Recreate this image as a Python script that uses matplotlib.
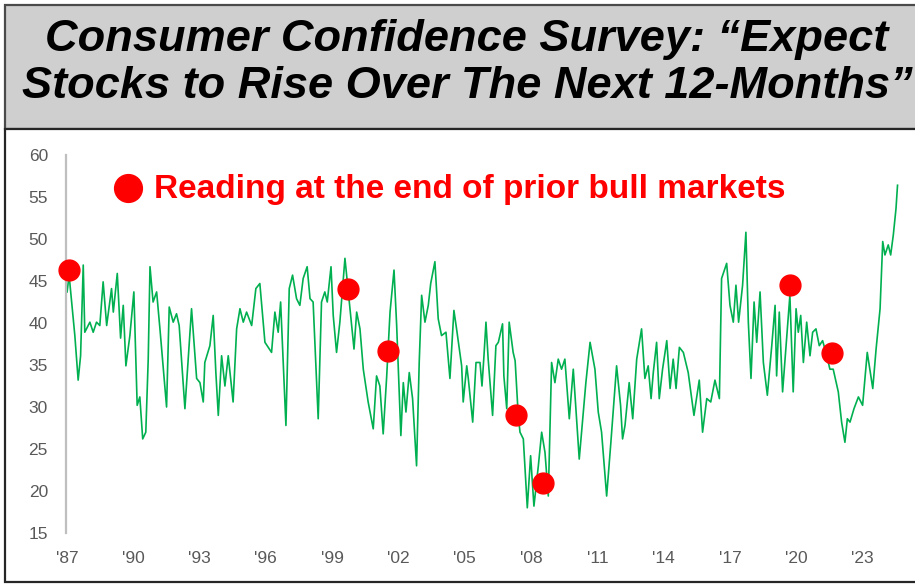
import matplotlib
matplotlib.use("Agg")
import matplotlib.pyplot as plt
from matplotlib.patches import Rectangle

# ---- data (decimal year, % expecting stocks to rise) ----
dates = [
    1987.01, 1987.10, 1987.36, 1987.51, 1987.62, 1987.74, 1987.81, 1988.04, 1988.19, 1988.34,
    1988.49, 1988.64, 1988.80, 1989.02, 1989.10, 1989.28, 1989.43, 1989.55, 1989.67, 1989.85,
    1990.03, 1990.18, 1990.30, 1990.43, 1990.57, 1990.68, 1990.76, 1990.90, 1991.06, 1991.21,
    1991.51, 1991.63, 1991.81, 1991.96, 1992.08, 1992.34, 1992.64, 1992.87, 1993.02, 1993.17,
    1993.24, 1993.47, 1993.62, 1993.74, 1993.85, 1994.00, 1994.15, 1994.30, 1994.52, 1994.68,
    1994.83, 1994.98, 1995.13, 1995.36, 1995.55, 1995.73, 1995.96, 1996.26, 1996.41, 1996.56,
    1996.67, 1996.91, 1997.06, 1997.21, 1997.39, 1997.54, 1997.69, 1997.87, 1998.00, 1998.14,
    1998.37, 1998.52, 1998.67, 1998.78, 1998.95, 1999.05, 1999.20, 1999.35, 1999.58, 1999.81,
    1999.99, 2000.11, 2000.26, 2000.41, 2000.63, 2000.86, 2001.01, 2001.16, 2001.31, 2001.47,
    2001.62, 2001.80, 2001.92, 2002.11, 2002.22, 2002.34, 2002.49, 2002.64, 2002.82, 2002.94,
    2003.05, 2003.20, 2003.35, 2003.46, 2003.65, 2003.80, 2003.95, 2004.15, 2004.33, 2004.51,
    2004.63, 2004.86, 2004.93, 2005.09, 2005.16, 2005.36, 2005.51, 2005.69, 2005.78, 2005.87,
    2005.96, 2006.06, 2006.26, 2006.41, 2006.52, 2006.71, 2006.77, 2006.90, 2007.01, 2007.19,
    2007.28, 2007.42, 2007.50, 2007.65, 2007.83, 2007.98, 2008.13, 2008.33, 2008.48, 2008.63,
    2008.78, 2008.93, 2009.08, 2009.23, 2009.38, 2009.53, 2009.73, 2009.91, 2010.18, 2010.48,
    2010.67, 2010.89, 2011.04, 2011.19, 2011.42, 2011.60, 2011.87, 2012.05, 2012.14, 2012.25,
    2012.44, 2012.60, 2012.78, 2013.00, 2013.15, 2013.30, 2013.43, 2013.53, 2013.68, 2013.80,
    2013.95, 2014.14, 2014.29, 2014.43, 2014.56, 2014.71, 2014.89, 2015.11, 2015.37, 2015.61,
    2015.76, 2015.95, 2016.13, 2016.32, 2016.52, 2016.62, 2016.85, 2017.00, 2017.15, 2017.27,
    2017.39, 2017.57, 2017.72, 2017.83, 2017.95, 2018.09, 2018.21, 2018.36, 2018.51, 2018.69,
    2018.89, 2019.04, 2019.11, 2019.23, 2019.38, 2019.57, 2019.71, 2019.86, 2019.99, 2020.09,
    2020.20, 2020.32, 2020.47, 2020.62, 2020.74, 2020.89, 2021.04, 2021.19, 2021.38, 2021.52,
    2021.67, 2021.90, 2022.05, 2022.20, 2022.31, 2022.43, 2022.61, 2022.81, 2023.00, 2023.21,
    2023.46, 2023.61, 2023.79, 2023.91, 2024.01, 2024.16, 2024.27, 2024.39, 2024.51, 2024.58,
]
values = [
    43.7, 45.7, 38.5, 33.2, 36.1, 46.9, 38.9, 40.1, 38.9, 40.1,
    39.7, 44.9, 39.7, 44.1, 41.3, 45.9, 38.2, 42.1, 34.9, 38.5,
    43.7, 30.2, 31.2, 26.2, 27.0, 35.7, 46.7, 42.5, 43.7, 39.3,
    30.0, 41.9, 40.1, 41.1, 39.7, 29.8, 41.7, 33.4, 32.9, 30.6,
    35.3, 37.3, 40.9, 34.1, 29.0, 36.1, 32.5, 36.1, 30.6, 39.3,
    41.7, 40.1, 41.3, 39.7, 44.1, 44.7, 37.7, 36.5, 41.3, 38.9,
    42.5, 27.8, 44.1, 45.7, 42.9, 42.1, 45.3, 46.7, 42.9, 42.5,
    28.6, 42.5, 43.7, 42.5, 46.7, 40.9, 36.5, 40.1, 47.7, 41.7,
    36.9, 41.3, 39.3, 34.5, 30.6, 27.4, 33.7, 32.5, 26.8, 33.7,
    41.3, 46.3, 39.7, 26.6, 32.9, 29.4, 34.1, 31.0, 23.0, 35.3,
    43.3, 40.1, 42.1, 44.7, 47.3, 40.5, 38.5, 38.9, 33.4, 41.5,
    39.3, 34.9, 30.6, 34.9, 33.4, 28.2, 35.3, 35.3, 32.5, 36.1,
    40.1, 35.7, 29.0, 37.3, 37.7, 39.9, 33.7, 29.8, 40.1, 36.5,
    35.5, 29.0, 27.0, 26.2, 18.0, 24.2, 18.2, 23.0, 27.0, 24.6,
    19.4, 35.3, 32.9, 35.7, 34.5, 35.7, 28.6, 34.5, 23.8, 32.9,
    37.7, 34.5, 29.4, 27.0, 19.4, 25.4, 34.9, 30.2, 26.2, 27.8,
    32.9, 28.6, 35.7, 39.3, 33.4, 34.9, 31.0, 34.1, 37.7, 31.0,
    34.5, 37.9, 32.2, 35.7, 32.2, 37.1, 36.5, 34.1, 29.0, 33.2,
    27.0, 31.0, 30.6, 33.2, 31.0, 45.3, 47.1, 42.1, 40.1, 44.5,
    40.1, 44.5, 50.8, 40.1, 33.4, 42.5, 37.7, 43.7, 35.3, 31.4,
    37.3, 42.1, 33.7, 41.3, 31.8, 38.5, 43.3, 31.8, 41.7, 38.9,
    40.9, 35.3, 40.1, 36.1, 38.9, 39.3, 37.3, 37.9, 36.1, 34.5,
    34.5, 31.8, 28.2, 25.8, 28.6, 28.2, 29.8, 31.2, 30.2, 36.5,
    32.2, 36.9, 41.7, 49.7, 48.1, 49.3, 48.1, 50.5, 53.6, 56.4,
]

# readings at the end of prior bull markets
peak_dates = [1987.09, 1999.71, 2001.52, 2007.32, 2008.54, 2019.71, 2021.62]
peak_values = [46.3, 44.1, 36.7, 29.0, 21.0, 44.5, 36.4]

x_ticks = [1987, 1990, 1993, 1996, 1999, 2002, 2005, 2008, 2011, 2014, 2017, 2020, 2023]
x_tick_labels = ["'87", "'90", "'93", "'96", "'99", "'02", "'05", "'08", "'11", "'14", "'17", "'20", "'23"]
y_ticks = [15, 20, 25, 30, 35, 40, 45, 50, 55, 60]

title_lines = ["Consumer Confidence Survey: \u201cExpect", "Stocks to Rise Over The Next 12-Months\u201d"]
legend_text = "Reading at the end of prior bull markets"

# ---- figure ----
W, H = 915, 586
fig = plt.figure(figsize=(W / 100, H / 100), dpi=100)
plt.rcParams['font.family'] = ['Liberation Sans', 'DejaVu Sans']

def fx(px):
    return px / W

def fy(py):
    return 1 - py / H

# title box
fig.patches.append(Rectangle((fx(5), fy(129)), fx(915) - fx(5) + 0.01, fy(5) - fy(129),
                             transform=fig.transFigure, facecolor='#CFCFCF',
                             edgecolor='#4a4a4a', linewidth=1.6, zorder=0))
# chart box
fig.patches.append(Rectangle((fx(5), fy(582)), fx(915) - fx(5) + 0.01, fy(129) - fy(582),
                             transform=fig.transFigure, facecolor='white',
                             edgecolor='#262626', linewidth=1.6, zorder=0))

fig.text(fx(467), fy(40), title_lines[0], ha='center', va='center', fontsize=32.5,
         fontweight='bold', fontstyle='italic', color='black', zorder=2)
fig.text(fx(467), fy(87), title_lines[1], ha='center', va='center', fontsize=32.5,
         fontweight='bold', fontstyle='italic', color='black', zorder=2)

ax_left, ax_right, ax_top, ax_bottom = 66, 913, 155, 533
ax = fig.add_axes([fx(ax_left), fy(ax_bottom), fx(ax_right) - fx(ax_left), fy(ax_top) - fy(ax_bottom)])
ax.set_zorder(3)
ax.set_facecolor('none')

ax.plot(dates, values, color='#00B050', linewidth=1.2, zorder=2)
ax.plot(peak_dates, peak_values, linestyle='none', marker='o', markersize=15,
        markerfacecolor='#FF0000', markeredgecolor='#FF0000', zorder=3, clip_on=False)

ax.set_xlim(1986.96, 2025.28)
ax.set_ylim(15, 60)
ax.set_xticks(x_ticks)
ax.set_xticklabels(x_tick_labels)
ax.set_yticks(y_ticks)

for s in ['top', 'right', 'bottom']:
    ax.spines[s].set_visible(False)
ax.spines['left'].set_color('#BFBFBF')
ax.spines['left'].set_linewidth(1.6)

ax.tick_params(axis='both', length=0, labelsize=12.5, labelcolor='#595959')
ax.tick_params(axis='y', pad=13)
ax.tick_params(axis='x', pad=13)

# legend-like annotation
ax_w = ax_right - ax_left
ax_h = ax_bottom - ax_top
ax.plot([(128 - ax_left) / ax_w], [(ax_bottom - 188) / ax_h],
        transform=ax.transAxes, marker='o', markersize=20, color='#FF0000', clip_on=False,
        linestyle='none')
ax.text((154 - ax_left) / ax_w, (ax_bottom - 189) / ax_h,
        legend_text, transform=ax.transAxes, ha='left', va='center', fontsize=24,
        fontweight='bold', color='#FF0000')

fig.savefig('out.png', dpi=100)
